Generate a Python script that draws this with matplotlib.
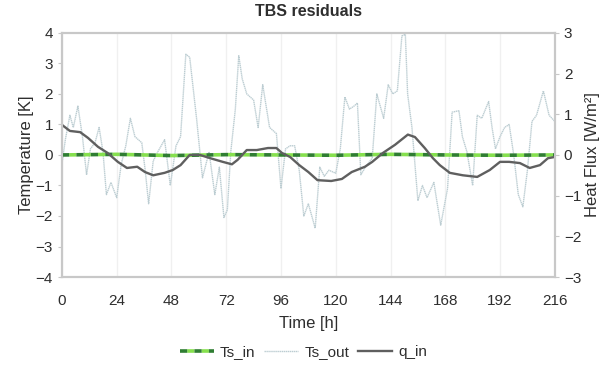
import matplotlib
matplotlib.use("Agg")
import matplotlib.pyplot as plt

plt.rcParams["font.family"] = ["Liberation Sans", "DejaVu Sans"]

# Ts_in residual (near zero throughout)
ts_in_h = [0, 24, 48, 72, 96, 120, 144, 168, 192, 216]
ts_in_k = [0.0, 0.02, -0.02, 0.01, 0.0, -0.01, 0.02, 0.0, -0.01, 0.0]

# Ts_out residual (jagged light line)
ts_out_h = [0, 1.5, 3.5, 5, 7, 9, 10.8, 12.5, 14.5, 16.3,
            18, 19.5, 21.5, 24, 26, 28, 30, 32, 33.5, 35,
            36.5, 38, 40, 42, 45, 47.5, 50, 52, 54.3, 56,
            59, 61.6, 64.5, 67, 69, 71, 72.5, 74, 76, 77.5,
            79, 81, 84, 86, 88, 91, 94, 96, 98, 100,
            102, 104, 106, 108, 111, 113, 115, 117, 120, 122,
            124, 126, 128, 129.5, 131, 133, 136, 138, 141, 143,
            145, 147, 149, 150.5, 151.5, 153.4, 156, 158, 160, 163,
            166, 169, 171, 174, 175.5, 177.5, 180, 182, 184, 187,
            188.5, 190, 192, 194, 196, 198, 200, 202, 204, 206,
            208, 211, 213.5, 216]
ts_out_k = [-0.3, 0.5, 1.3, 0.9, 1.6, 0.6, -0.65, 0.2, 0.4, 0.9,
            0.1, -1.3, -0.9, -1.4, -0.3, 0.3, 1.2, 0.6, 0.5, 0.4,
            -0.5, -1.6, -0.2, 0.1, 0.5, -1.0, 0.3, 0.6, 3.3, 3.2,
            1.2, -0.75, 0.1, -1.3, -0.4, -2.05, -1.8, 0.1, 1.5, 3.25,
            2.5, 2.0, 1.8, 0.9, 2.3, 0.9, 0.7, -1.1, 0.2, 0.3,
            0.3, -0.5, -2.0, -1.6, -2.4, -0.4, -0.7, -0.5, -0.6, 0.2,
            1.9, 1.5, 1.6, 1.7, -0.65, -0.4, -0.1, 2.0, 1.2, 2.3,
            2.0, 2.1, 3.9, 3.95, 2.0, 0.9, -1.5, -1.0, -1.4, -0.9,
            -2.3, -1.1, 1.4, 1.45, 0.6, 0.1, -1.0, 1.3, 1.2, 1.75,
            0.9, 0.2, 0.6, 0.9, 1.0, 0.0, -1.3, -1.7, -0.5, 1.1,
            1.3, 2.1, 1.3, 1.1]

# q_in residual (smooth dark line, right axis)
q_in_h = [0, 3.5, 8, 11.4, 15.8, 20, 24.5, 28.5, 33, 36.4,
          40, 45, 48.6, 52, 56, 60.5, 65, 70.5, 74.5, 77,
          81, 85.4, 90.3, 94, 96.4, 100, 104, 108, 112, 118,
          122.7, 127, 132.8, 136, 140.7, 146, 151.6, 154.7, 159, 162.6,
          165.6, 170, 175.7, 182, 187.5, 192, 196, 200.7, 205, 209.5,
          213, 216]
q_in_w = [0.74, 0.59, 0.56, 0.42, 0.2, 0.05, -0.17, -0.32, -0.29, -0.42,
          -0.5, -0.44, -0.37, -0.25, 0.0, 0.0, -0.08, -0.17, -0.23, -0.12,
          0.12, 0.12, 0.17, 0.17, 0.05, -0.05, -0.25, -0.42, -0.62, -0.64,
          -0.59, -0.42, -0.29, -0.17, 0.05, 0.25, 0.5, 0.44, 0.17, -0.08,
          -0.25, -0.44, -0.5, -0.54, -0.37, -0.17, -0.17, -0.2, -0.32, -0.25,
          -0.08, -0.05]

x_ticks = list(range(0, 217, 24))

fig = plt.figure(figsize=(6.07, 3.65), dpi=100)
ax1 = fig.add_axes([0.102, 0.241, 0.812, 0.669])
ax2 = ax1.twinx()

frame = "#c8c8c8"
text_c = "#2e2e2e"

h_out, = ax1.plot(ts_out_h, ts_out_k, color="#bccdd2", linewidth=1.0,
                  linestyle=(0, (1, 0.4)), label="Ts_out", zorder=2)
h_in, = ax1.plot(ts_in_h, ts_in_k, color="#2f7d32", gapcolor="#86e04e",
                 linewidth=2.6, linestyle=(0, (2, 2)), label="Ts_in", zorder=4)
h_q, = ax2.plot(q_in_h, q_in_w, color="#5f5f5f", linewidth=1.7, label="q_in")

ax1.set_xlim(0, 216)
ax1.set_ylim(-4, 4)
ax2.set_ylim(-3, 3)
ax1.set_xticks(x_ticks)
ax1.set_yticks(range(-4, 5))
ax2.set_yticks(range(-3, 4))
ax1.grid(axis="x", color="#f0f0f0", linewidth=1)
ax1.set_axisbelow(True)

for ax in (ax1, ax2):
    for s in ax.spines.values():
        s.set_color(frame)
        s.set_linewidth(1.5)
    ax.tick_params(colors=frame, labelcolor=text_c, labelsize=11, length=3)
ax1.tick_params(axis="x", length=0, pad=12)

ax1.set_xlabel("Time [h]", fontsize=12, color=text_c, labelpad=6)
ax1.set_ylabel("Temperature [K]", fontsize=12, color=text_c, labelpad=1)
ax2.set_ylabel("Heat Flux [W/m²]", fontsize=12, color=text_c, labelpad=3)
ax1.set_title("TBS residuals", fontsize=11.5, fontweight="bold", color=text_c, pad=12)

ax1.legend([h_in, h_out, h_q], ["Ts_in", "Ts_out", "q_in"], ncol=3,
           frameon=False, loc="upper center", bbox_to_anchor=(0.49, -0.255),
           fontsize=11, handlelength=2.2, columnspacing=0.6, handletextpad=0.4,
           labelcolor=text_c, borderaxespad=0)

fig.savefig("out.png", dpi=100)
